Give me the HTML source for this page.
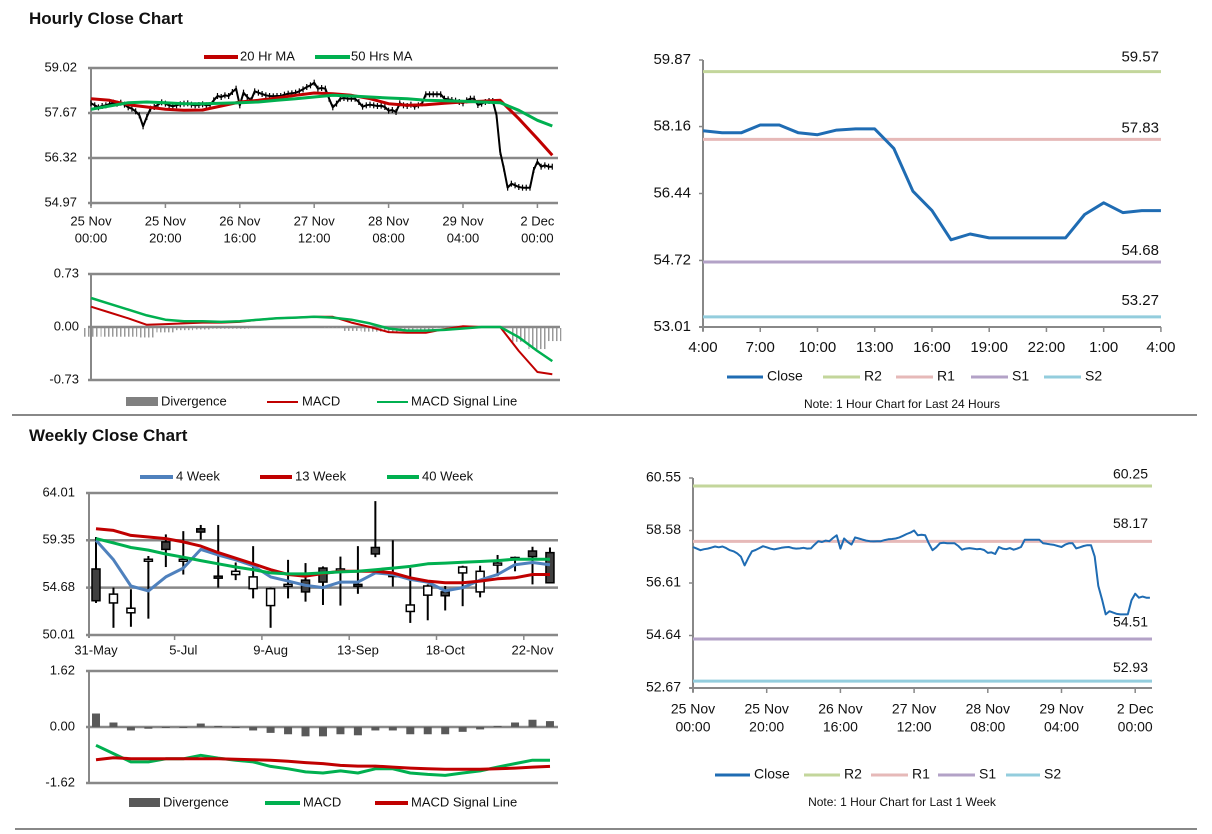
<!DOCTYPE html>
<html><head><meta charset="utf-8"><style>
html,body{margin:0;padding:0;background:#fff;}
svg{display:block;font-family:"Liberation Sans",Arial,sans-serif;}
</style></head><body>
<svg id="s" width="1212" height="834" viewBox="0 0 1212 834">
<defs><pattern id="stripes" width="4" height="4" patternUnits="userSpaceOnUse"><rect x="0" y="0" width="1.5" height="4" fill="#999"/></pattern></defs>
<text x="29" y="24" font-size="17" font-weight="bold" fill="#111">Hourly Close Chart</text>
<text x="29" y="441" font-size="17" font-weight="bold" fill="#111">Weekly Close Chart</text>
<line x1="12" y1="415" x2="1197" y2="415" stroke="#888" stroke-width="2"/>
<line x1="15" y1="829" x2="1197" y2="829" stroke="#888" stroke-width="2"/>
<g id="g"></g>
</svg>
<script>
// ---------- DATA ----------
const hourlyClose = [57.96,57.90,57.84,57.88,57.90,57.94,57.98,57.95,57.98,57.92,
57.84,57.80,57.72,57.60,57.27,57.55,57.80,57.85,57.92,57.99,
57.95,57.90,57.87,57.90,57.93,57.95,57.96,57.92,57.90,57.91,
57.93,57.90,57.91,58.05,58.18,58.15,58.20,58.18,58.30,58.40,
57.90,58.28,58.15,58.05,58.32,58.28,58.24,58.20,58.18,58.17,
58.18,58.18,58.22,58.25,58.26,58.28,58.32,58.38,58.45,58.50,
58.58,58.40,58.42,58.40,58.10,57.84,57.95,58.10,58.12,58.10,
58.10,58.10,58.00,57.86,57.90,57.92,57.90,57.88,57.89,57.85,
57.74,57.76,57.70,57.96,57.90,57.88,57.92,57.86,57.90,57.96,
58.23,58.23,58.23,58.23,58.23,58.10,58.08,58.06,58.04,58.00,
57.96,58.05,58.10,58.10,57.91,57.95,58.00,58.03,58.03,57.60,
56.50,56.00,55.43,55.55,55.50,55.45,55.43,55.43,55.43,55.96,
56.21,56.06,56.10,56.06,56.06];
const hourlyLabels = [["25 Nov","00:00"],["25 Nov","20:00"],["26 Nov","16:00"],["27 Nov","12:00"],["28 Nov","08:00"],["29 Nov","04:00"],["2 Dec","00:00"]];
const maIndex = [0,5,10,15,20,25,30,35,40,45,50,55,60,65,70,75,80,85,90,95,100,105,110,115,120,124];
const ma20 = [58.10,58.05,57.92,57.85,57.78,57.75,57.76,57.88,58.00,58.05,58.12,58.20,58.27,58.25,58.20,58.10,57.95,57.90,57.92,57.96,58.00,58.02,58.05,57.50,56.90,56.40];
const ma50 = [57.78,57.88,57.98,58.00,57.98,57.95,57.95,57.96,57.98,58.00,58.05,58.10,58.15,58.20,58.18,58.15,58.12,58.10,58.05,58.04,58.02,58.00,57.98,57.75,57.45,57.28];
const hMacd = [0.28,0.20,0.12,0.03,0.04,0.05,0.06,0.06,0.07,0.10,0.12,0.13,0.14,0.14,0.06,0.00,-0.07,-0.08,-0.08,-0.03,0.01,0.00,0.00,-0.33,-0.62,-0.65];
const hSignal = [0.40,0.32,0.24,0.16,0.10,0.08,0.08,0.07,0.08,0.10,0.12,0.13,0.14,0.13,0.10,0.05,-0.02,-0.05,-0.05,-0.04,-0.02,0.00,0.00,-0.14,-0.33,-0.47];
const dayClose = [58.05,58.00,58.00,58.20,58.20,58.00,57.95,58.07,58.10,58.10,57.60,56.50,56.00,55.25,55.40,55.30,55.30,55.30,55.30,55.30,55.90,56.20,55.95,56.00,56.00];
const dayLabels = ["4:00","7:00","10:00","13:00","16:00","19:00","22:00","1:00","4:00"];
const dayLevels = [59.57,57.83,54.68,53.27];
const weekLevels = [60.25,58.17,54.51,52.93];
const levelNames = ["R2","R1","S1","S2"];
const wOpen  = [56.52,53.17,52.20,57.35,59.19,57.42,60.48,55.81,55.97,54.58,52.91,54.84,55.42,56.61,56.39,55.00,58.64,55.97,52.33,53.94,54.26,56.13,54.26,57.00,57.55,58.29,58.13];
const wHigh  = [59.67,54.68,54.52,57.80,59.93,60.25,60.86,60.86,57.16,58.77,54.68,57.42,57.10,56.77,57.74,58.77,63.21,59.35,56.61,55.00,54.84,56.84,56.84,57.90,57.74,58.71,58.64];
const wLow   = [53.17,50.72,50.82,51.62,56.71,55.97,59.41,54.68,55.42,53.62,50.72,53.62,53.30,52.97,52.91,54.07,57.68,54.78,51.20,51.46,52.43,52.85,53.72,55.81,56.29,55.00,55.10];
const wClose = [53.39,54.04,52.65,57.48,58.45,57.48,60.16,55.62,56.29,55.74,54.58,55.00,54.26,55.23,56.52,54.91,58.00,55.81,52.97,54.84,53.88,56.71,56.29,57.10,57.65,57.74,55.16];
const w4  = [59.35,57.42,54.84,54.36,55.74,56.61,58.45,57.90,57.42,56.84,55.74,55.32,54.91,54.68,55.23,55.23,56.13,55.97,55.49,55.23,54.36,54.68,55.42,55.97,56.94,57.16,56.94];
const w13 = [60.48,60.32,59.83,59.67,59.51,59.19,58.77,58.13,57.58,57.03,56.45,55.97,55.81,56.07,56.29,56.29,56.29,56.13,55.65,55.32,55.16,55.16,55.32,55.55,55.65,55.97,55.97];
const w40 = [59.51,59.09,58.64,58.38,58.00,57.68,57.35,57.03,56.71,56.45,56.13,56.03,56.03,56.13,56.23,56.29,56.45,56.61,56.77,57.03,57.10,57.19,57.26,57.35,57.48,57.48,57.48];
const wDiv = [0.39,0.13,-0.10,-0.05,-0.02,-0.02,0.10,0.03,-0.02,-0.10,-0.17,-0.21,-0.27,-0.27,-0.21,-0.24,-0.10,-0.10,-0.21,-0.21,-0.21,-0.14,-0.07,0.03,0.13,0.21,0.17];
const wMacd = [-0.53,-0.77,-1.01,-1.01,-0.92,-0.92,-0.82,-0.90,-0.96,-1.01,-1.14,-1.21,-1.30,-1.33,-1.27,-1.33,-1.21,-1.21,-1.33,-1.37,-1.40,-1.33,-1.27,-1.16,-1.06,-0.96,-0.96];
const wSignal = [-0.945,-0.887,-0.916,-0.916,-0.916,-0.916,-0.916,-0.916,-0.935,-0.945,-0.964,-0.993,-1.03,-1.06,-1.11,-1.13,-1.13,-1.16,-1.19,-1.21,-1.22,-1.22,-1.22,-1.21,-1.19,-1.16,-1.14];
const weekLabels = ["31-May","5-Jul","9-Aug","13-Sep","18-Oct","22-Nov"];
const ticksTL = ["59.02","57.67","56.32","54.97"];
const ticksTLm = ["0.73","0.00","-0.73"];
const ticksTR = ["59.87","58.16","56.44","54.72","53.01"];
const ticksBL = ["64.01","59.35","54.68","50.01"];
const ticksBLm = ["1.62","0.00","-1.62"];
const ticksBR = ["60.55","58.58","56.61","54.64","52.67"];

// ---------- HELPERS ----------
const NS="http://www.w3.org/2000/svg";
const root=document.getElementById('g');
function mk(tag,at,parent){const e=document.createElementNS(NS,tag);for(const k in at)e.setAttribute(k,at[k]);(parent||root).appendChild(e);return e;}
function txt(x,y,s,size,anchor,parent){const t=mk('text',{x:x,y:y,'font-size':size,'text-anchor':anchor||'start','dominant-baseline':'middle',fill:'#111'},parent);t.textContent=s;return t;}
function poly(pts,color,w,parent){return mk('polyline',{points:pts.map(p=>p[0].toFixed(1)+','+p[1].toFixed(1)).join(' '),fill:'none',stroke:color,'stroke-width':w,'stroke-linejoin':'round'},parent);}
const BLUE="#1f6cb3",RED="#c00000",GREEN="#00b050",GRAY="#888";
const LC={R2:"#c3d69b",R1:"#e6b9b8",S1:"#b3a2c7",S2:"#93cddd"};

// ===== Top-left hourly =====
(function(){
 const g=mk('g',{});
 const x=i=>91+i*3.72, y=v=>68+(59.02-v)*(135/4.05);
 ticksTL.forEach(t=>{const yy=y(parseFloat(t));const l=mk('line',{x1:88,x2:558,y1:yy,y2:yy,stroke:GRAY,'stroke-width':2.5},g);const tt=txt(77,yy,t,13,'end',g);});
 mk('line',{x1:91,x2:91,y1:68,y2:206,stroke:GRAY,'stroke-width':2},g);
 hourlyLabels.forEach((l,k)=>{const xx=x(k*20);mk('line',{x1:xx,x2:xx,y1:203,y2:208,stroke:GRAY,'stroke-width':1.5},g);const a=txt(xx,222,l[0],13,'middle',g);txt(xx,239,l[1],13,'middle',g);});
 const p=poly(hourlyClose.map((v,i)=>[x(i),y(v)]),'#000',2,g);
 hourlyClose.forEach((v,i)=>{mk('line',{x1:x(i),x2:x(i),y1:y(v)-3,y2:y(v)+3,stroke:'#000','stroke-width':1.2},g);});
 const r=poly(ma20.map((v,k)=>[x(maIndex[k]),y(v)]),RED,3,g);
 const gr=poly(ma50.map((v,k)=>[x(maIndex[k]),y(v)]),GREEN,3,g);
 const lg=mk('g',{},g);
 mk('line',{x1:204,x2:238,y1:57,y2:57,stroke:RED,'stroke-width':4},lg);txt(240,57,'20 Hr MA',13,'start',lg);
 mk('line',{x1:315,x2:350,y1:57,y2:57,stroke:GREEN,'stroke-width':4},lg);txt(351,57,'50 Hrs MA',13,'start',lg);
 // MACD
 const m=mk('g',{});
 const ym=v=>327-v*(53/0.73);
 ticksTLm.forEach(t=>{const yy=ym(parseFloat(t));mk('line',{x1:88,x2:560,y1:yy,y2:yy,stroke:GRAY,'stroke-width':2.5},m);const tt=txt(79,yy,t,13,'end',m);});
 mk('line',{x1:91,x2:91,y1:275,y2:381,stroke:GRAY,'stroke-width':2},m);
 hMacd.forEach((v,k)=>{const d=v-hSignal[k];const y0=ym(0),y1=ym(d);const b=mk('rect',{x:x(maIndex[k])-9,y:Math.min(y0,y1)+1,width:18,height:Math.abs(y1-y0),fill:'url(#stripes)'},m);});
 const a1=poly(hMacd.map((v,k)=>[x(maIndex[k]),ym(v)]),RED,2,m);
 const a2=poly(hSignal.map((v,k)=>[x(maIndex[k]),ym(v)]),GREEN,2.5,m);
 const ml=mk('g',{},m);
 mk('rect',{x:126,y:397,width:32,height:9,fill:'#808080'},ml);txt(161,402,'Divergence',13,'start',ml);
 mk('line',{x1:267,x2:298,y1:402,y2:402,stroke:RED,'stroke-width':2},ml);txt(302,402,'MACD',13,'start',ml);
 mk('line',{x1:377,x2:408,y1:402,y2:402,stroke:GREEN,'stroke-width':2},ml);txt(411,402,'MACD Signal Line',13,'start',ml);
})();

// ===== Level charts (right) =====
function levelChart(o){
 const g=mk('g',{});
 const y=v=>o.top+(o.vmax-v)*(o.bot-o.top)/(o.vmax-o.vmin);
 mk('line',{x1:o.x0,x2:o.x0,y1:o.top,y2:o.bot+4,stroke:GRAY,'stroke-width':2},g);
 mk('line',{x1:o.x0-4,x2:o.x1,y1:o.bot,y2:o.bot,stroke:GRAY,'stroke-width':2},g);
 o.ticks.forEach(t=>{const yy=y(parseFloat(t));mk('line',{x1:o.x0-4,x2:o.x0,y1:yy,y2:yy,stroke:GRAY,'stroke-width':1.5},g);const tt=txt(o.x0-12,yy,t,o.fs,'end',g);});
 o.levels.forEach((v,k)=>{const yy=y(v);const l=mk('line',{x1:o.x0,x2:o.x1,y1:yy,y2:yy,stroke:LC[levelNames[k]],'stroke-width':3},g);const t=txt(o.lblX,yy-o.lblOff[k],v.toFixed(2),o.fs,'end',g);});
 o.xlabels.forEach(l=>{const xx=o.x(l.i);mk('line',{x1:xx,x2:xx,y1:o.bot,y2:o.bot+5,stroke:GRAY,'stroke-width':1.5},g);l.t.forEach((s,j)=>{const t=txt(xx,o.lblY+j*18,s,o.fs,'middle',g);});});
 const p=poly(o.data.map((v,i)=>[o.x(i),y(v)]),BLUE,o.lw,g);
 const lg=mk('g',{},g);
 const items=[["Close",BLUE]].concat(levelNames.map(n=>[n,LC[n]]));
 items.forEach((it,k)=>{const L=o.leg[k];mk('line',{x1:L[0],x2:L[1],y1:o.legY,y2:o.legY,stroke:it[1],'stroke-width':3},lg);txt(L[1]+4,o.legY,it[0],14,'start',lg);});
 const n=txt(902,o.noteY,o.note,12,'middle',g);
}
levelChart({name:'day-close-levels-chart',x0:703,x1:1161,top:60,bot:327,vmin:53.01,vmax:59.87,ticks:ticksTR,fs:15,
 levels:dayLevels,lblX:1159,lblOff:[14,11,11,16],data:dayClose,x:i=>703+i*19.08,lw:3,
 xlabels:dayLabels.map((s,k)=>({i:k*3,t:[s]})),lblY:348,legY:377,
 leg:[[727,763],[823,860],[896,933],[971,1008],[1044,1081]],note:'Note: 1 Hour Chart for Last 24 Hours',noteY:405});
levelChart({name:'week-close-levels-chart',x0:693,x1:1152,top:478,bot:688,vmin:52.67,vmax:60.55,ticks:ticksBR,fs:14,
 levels:weekLevels,lblX:1148,lblOff:[11,17,16,13],data:hourlyClose,x:i=>693+i*3.685,lw:2,
 xlabels:hourlyLabels.map((s,k)=>({i:k*20,t:s})),lblY:710,legY:775,
 leg:[[715,750],[804,840],[871,908],[938,975],[1006,1040]],note:'Note: 1 Hour Chart for Last 1 Week',noteY:803});

// ===== Bottom-left weekly =====
(function(){
 const g=mk('g',{});
 const x=i=>96+i*17.46, y=v=>493+(64.01-v)*(142/14);
 ticksBL.forEach(t=>{const yy=y(parseFloat(t));mk('line',{x1:86,x2:558,y1:yy,y2:yy,stroke:GRAY,'stroke-width':2.5},g);const tt=txt(75,yy,t,13,'end',g);});
 mk('line',{x1:89,x2:89,y1:493,y2:638,stroke:GRAY,'stroke-width':2},g);
 weekLabels.forEach((s,k)=>{const t=txt(x(k*5),651,s,13,'middle',g);if(k>0)mk('line',{x1:x(k*5)-8.7,x2:x(k*5)-8.7,y1:635,y2:640,stroke:GRAY,'stroke-width':1.5},g);});
 wOpen.forEach((o,i)=>{const c=wClose[i];const cg=mk('g',{},g);
  mk('line',{x1:x(i),x2:x(i),y1:y(wHigh[i]),y2:y(wLow[i]),stroke:'#000','stroke-width':2},cg);
  const top=y(Math.max(o,c)),h=Math.max(2,Math.abs(y(o)-y(c)));
  mk('rect',{x:x(i)-4,y:top,width:8,height:h,fill:c<o?'#404040':'#fff',stroke:'#000','stroke-width':1.5},cg);});
 [[w4,'#4f81bd','four-week-ma'],[w13,RED,'thirteen-week-ma'],[w40,GREEN,'forty-week-ma']].forEach(s=>{const p=poly(s[0].map((v,i)=>[x(i),y(v)]),s[1],3,g);});
 const lg=mk('g',{},g);
 mk('line',{x1:140,x2:173,y1:477,y2:477,stroke:'#4f81bd','stroke-width':4},lg);txt(176,477,'4 Week',13,'start',lg);
 mk('line',{x1:260,x2:292,y1:477,y2:477,stroke:RED,'stroke-width':4},lg);txt(295,477,'13 Week',13,'start',lg);
 mk('line',{x1:387,x2:419,y1:477,y2:477,stroke:GREEN,'stroke-width':4},lg);txt(422,477,'40 Week',13,'start',lg);
 // MACD
 const m=mk('g',{});
 const ym=v=>727-v*(56/1.62);
 ticksBLm.forEach(t=>{const yy=ym(parseFloat(t));mk('line',{x1:86,x2:558,y1:yy,y2:yy,stroke:GRAY,'stroke-width':2.5},m);const tt=txt(75,yy,t,13,'end',m);});
 mk('line',{x1:89,x2:89,y1:671,y2:783,stroke:GRAY,'stroke-width':2},m);
 wDiv.forEach((v,i)=>{const y0=ym(0),y1=ym(v);const b=mk('rect',{x:x(i)-4,y:Math.min(y0,y1),width:8,height:Math.max(1,Math.abs(y1-y0)),fill:'#595959'},m);});
 const a1=poly(wMacd.map((v,i)=>[x(i),ym(v)]),GREEN,3,m);
 const a2=poly(wSignal.map((v,i)=>[x(i),ym(v)]),RED,3,m);
 const ml=mk('g',{},m);
 mk('rect',{x:129,y:798,width:31,height:9,fill:'#595959'},ml);txt(163,803,'Divergence',13,'start',ml);
 mk('line',{x1:265,x2:300,y1:803,y2:803,stroke:GREEN,'stroke-width':4},ml);txt(303,803,'MACD',13,'start',ml);
 mk('line',{x1:375,x2:408,y1:803,y2:803,stroke:RED,'stroke-width':4},ml);txt(411,803,'MACD Signal Line',13,'start',ml);
})();
</script>
</body></html>
